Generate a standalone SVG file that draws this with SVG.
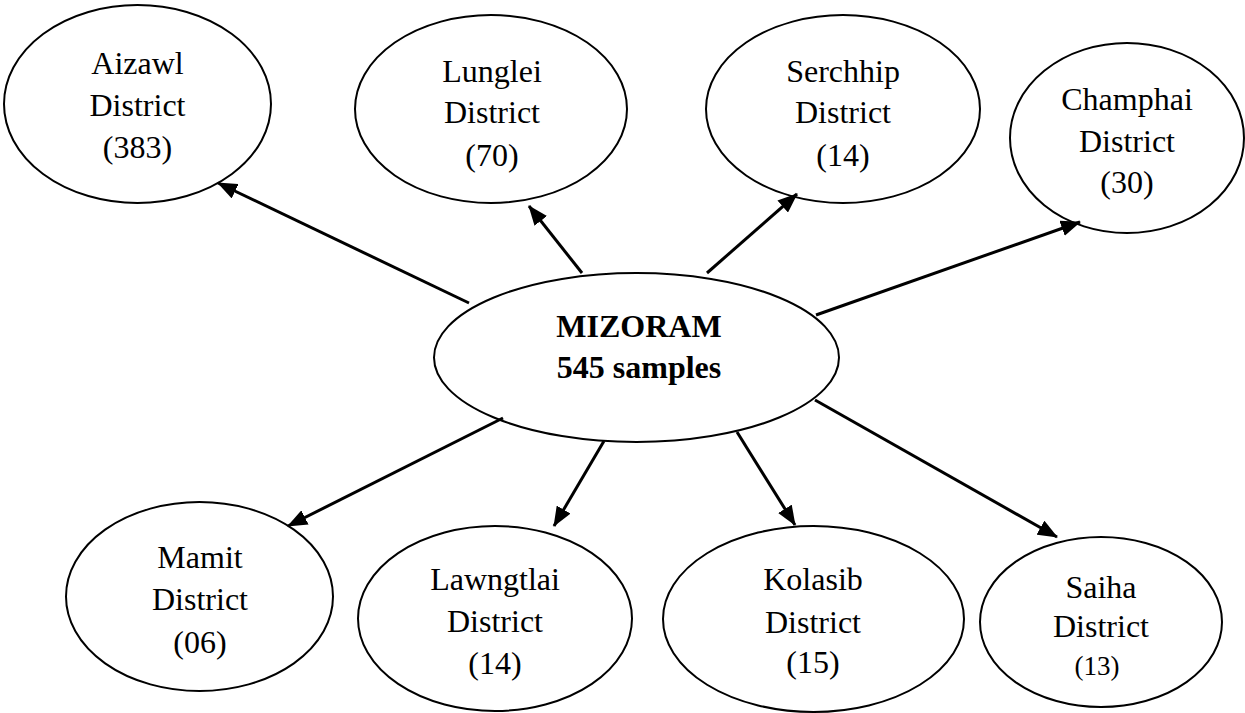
<svg xmlns="http://www.w3.org/2000/svg" width="1245" height="713" viewBox="0 0 1245 713">
  <style>
    .node ellipse { fill: #ffffff; stroke: #000000; stroke-width: 2; }
    .node text { font-family: "Liberation Serif", "Times New Roman", serif; font-size: 32px; fill: #000000; text-anchor: middle; }
    .hub text { font-weight: bold; }
    .node text.small { font-size: 27px; }
    .edge { stroke: #000000; stroke-width: 3; fill: none; marker-end: url(#arrow); }
  </style>
  <defs>
    <marker id="arrow" markerUnits="userSpaceOnUse" viewBox="0 0 20 16" markerWidth="20" markerHeight="16" refX="19" refY="8" orient="auto">
      <path d="M0,0 L20,8 L0,16 z" fill="#000000"/>
    </marker>
  </defs>
  <rect width="1245" height="713" fill="#ffffff"/>

  <g id="aizawl" class="node">
    <ellipse cx="137.5" cy="104" rx="133.5" ry="99"/>
    <text x="137.5" y="74">Aizawl</text>
    <text x="137.5" y="116">District</text>
    <text x="137.5" y="158">(383)</text>
  </g>
  <g id="lunglei" class="node">
    <ellipse cx="491" cy="109" rx="136" ry="94"/>
    <text x="492" y="82">Lunglei</text>
    <text x="492" y="123">District</text>
    <text x="492" y="166">(70)</text>
  </g>
  <g id="serchhip" class="node">
    <ellipse cx="843" cy="109" rx="137" ry="94"/>
    <text x="843" y="82">Serchhip</text>
    <text x="843" y="123">District</text>
    <text x="843" y="166">(14)</text>
  </g>
  <g id="champhai" class="node">
    <ellipse cx="1127" cy="138" rx="117" ry="95"/>
    <text x="1127" y="110">Champhai</text>
    <text x="1127" y="152">District</text>
    <text x="1127" y="193">(30)</text>
  </g>
  <g id="mizoram" class="node hub">
    <ellipse cx="636.5" cy="357.5" rx="202.5" ry="84.5"/>
    <text x="639" y="337">MIZORAM</text>
    <text x="639" y="378">545 samples</text>
  </g>
  <g id="mamit" class="node">
    <ellipse cx="199.5" cy="596.5" rx="133.5" ry="94.5"/>
    <text x="200" y="568">Mamit</text>
    <text x="200" y="610">District</text>
    <text x="200" y="653">(06)</text>
  </g>
  <g id="lawngtlai" class="node">
    <ellipse cx="495" cy="618.5" rx="137" ry="92.5"/>
    <text x="495" y="590">Lawngtlai</text>
    <text x="495" y="632">District</text>
    <text x="495" y="674">(14)</text>
  </g>
  <g id="kolasib" class="node">
    <ellipse cx="813.5" cy="619" rx="150.5" ry="93"/>
    <text x="813" y="590">Kolasib</text>
    <text x="813" y="633">District</text>
    <text x="813" y="673">(15)</text>
  </g>
  <g id="saiha" class="node">
    <ellipse cx="1101" cy="622" rx="121" ry="85"/>
    <text x="1101" y="598">Saiha</text>
    <text x="1101" y="637">District</text>
    <text class="small" x="1097" y="675">(13)</text>
  </g>

  <g id="connectors">
    <line class="edge" x1="469" y1="303" x2="218" y2="183"/>
    <line class="edge" x1="582" y1="273" x2="529" y2="206"/>
    <line class="edge" x1="707" y1="273" x2="797" y2="194"/>
    <line class="edge" x1="816" y1="315" x2="1080" y2="222"/>
    <line class="edge" x1="503" y1="418" x2="288" y2="526"/>
    <line class="edge" x1="604" y1="441" x2="554" y2="526"/>
    <line class="edge" x1="737" y1="432" x2="795" y2="525"/>
    <line class="edge" x1="815" y1="400" x2="1057" y2="537"/>
  </g>
</svg>
